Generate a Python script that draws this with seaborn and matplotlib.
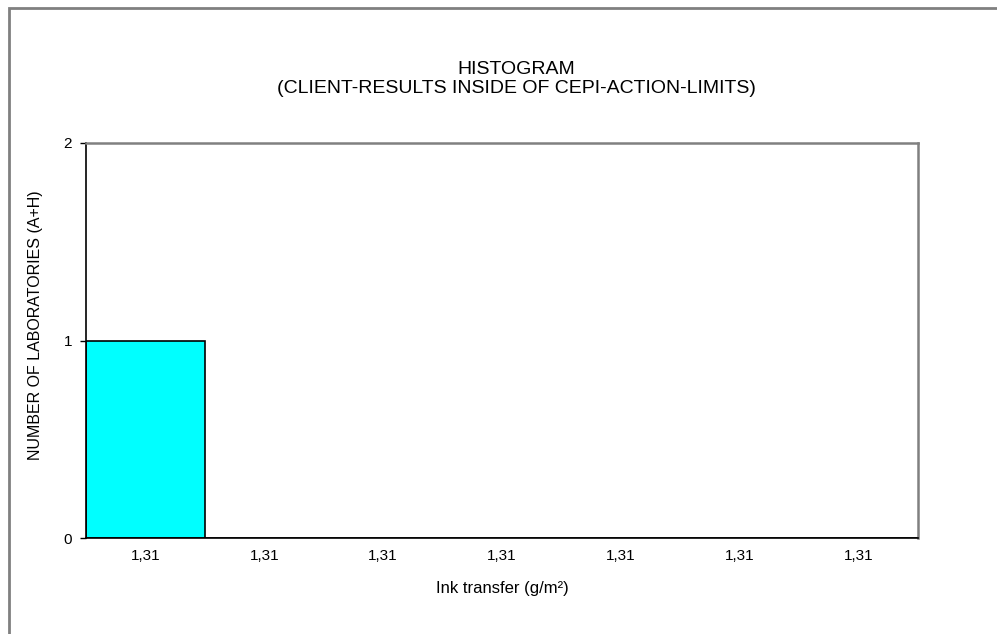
import numpy as np
import pandas as pd
import seaborn as sns
import matplotlib.pyplot as plt
from matplotlib.patches import Rectangle

# datos del histograma
clases = ["1,31", "1,31", "1,31", "1,31", "1,31", "1,31", "1,31"]
laboratorios = [1, 0, 0, 0, 0, 0, 0]

sns.set_style("white")
plt.rcParams['font.family'] = ['Liberation Sans', 'DejaVu Sans']
plt.rcParams['text.color'] = "black"
plt.rcParams['axes.labelcolor'] = "black"
plt.rcParams['xtick.color'] = "black"
plt.rcParams['ytick.color'] = "black"

df = pd.DataFrame({"pos": np.arange(len(clases)), "n": laboratorios})

fig = plt.figure(figsize=(9.97, 6.34), dpi=100)
ax = fig.add_axes([86/997, 1 - 538/634, (918-86)/997, (538-143)/634])

sns.barplot(data=df, x="pos", y="n", color="#00FFFF", edgecolor="black",
            linewidth=1.2, width=1.0, saturation=1, ax=ax)

ax.set_xlim(-0.5, len(clases) - 0.5)
ax.set_ylim(0, 2)
ax.set_yticks([0, 1, 2])
ax.set_yticklabels(["0", "1", "2"])
ax.set_xticks(np.arange(len(clases)))
ax.set_xticklabels(clases)
ax.set_xticks(np.arange(len(clases) + 1) - 0.5, minor=True)
ax.tick_params(axis="x", which="major", length=0, pad=8, labelsize=11)
ax.tick_params(axis="x", which="minor", length=4, width=1, color="black", direction="out")
ax.tick_params(axis="y", length=4, width=1, color="black", direction="out", labelsize=11, pad=6, left=True)

for lado in ["left", "bottom"]:
    ax.spines[lado].set_color("black")
    ax.spines[lado].set_linewidth(1.2)
for lado in ["top", "right"]:
    ax.spines[lado].set_color("#808080")
    ax.spines[lado].set_linewidth(1.8)

ax.set_xlabel("Ink transfer (g/m²)", fontsize=12, labelpad=13)
ax.set_ylabel("NUMBER OF LABORATORIES (A+H)", fontsize=11.5)
ax.yaxis.set_label_coords(-0.052, 0.54)

fig.text(516/997, 1 - 79/634, "HISTOGRAM\n(CLIENT-RESULTS INSIDE OF CEPI-ACTION-LIMITS)",
         ha="center", va="center", fontsize=14, linespacing=1.15)

# marco exterior
fig.patches.append(Rectangle((9/997, -0.05), 1.1, 1 - 8/634 + 0.05, transform=fig.transFigure,
                             fill=False, edgecolor="#808080", linewidth=2))

fig.savefig("out.png", dpi=100)
